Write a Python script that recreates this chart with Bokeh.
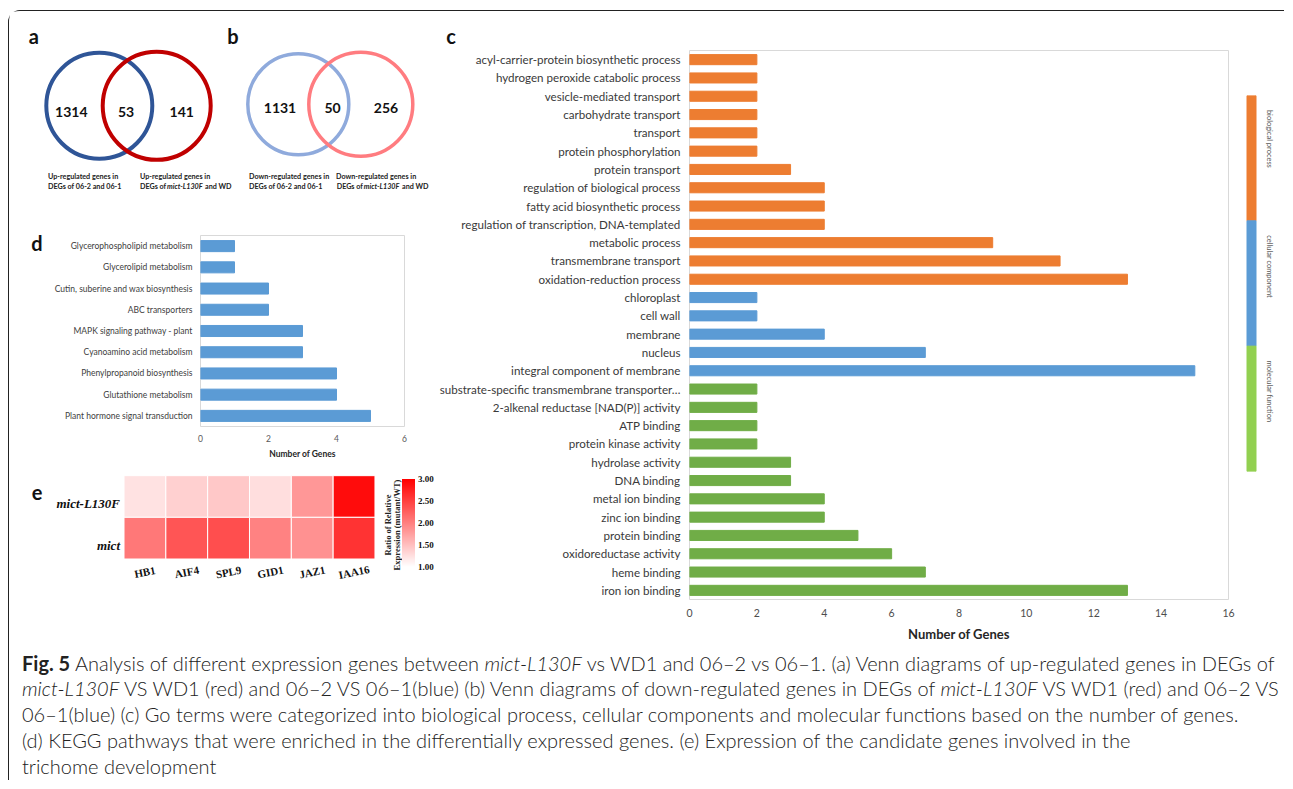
import math
from bokeh.plotting import figure
from bokeh.models import (Range1d, FactorRange, FixedTicker, ColumnDataSource,
                          LinearColorMapper, ColorBar, PrintfTickFormatter, Div)
from bokeh.layouts import column, row
from bokeh.embed import file_html
from bokeh.resources import INLINE
from bokeh.core.properties import value

# ---------------------------------------------------------------- data
venn_up_counts = [1314, 53, 141]          # 06-2/06-1 only, shared, mict-L130F/WD only
venn_down_counts = [1131, 50, 256]
venn_up_left = ["Up-regulated genes in", "DEGs of 06-2 and 06-1"]
venn_up_right = ["Up-regulated genes in", "DEGs of", "mict-L130F", "and WD"]
venn_down_left = ["Down-regulated genes in", "DEGs of 06-2 and 06-1"]
venn_down_right = ["Down-regulated genes in", "DEGs of", "mict-L130F", "and WD"]

kegg_terms = ["Glycerophospholipid metabolism", "Glycerolipid metabolism",
              "Cutin, suberine and wax biosynthesis", "ABC transporters",
              "MAPK signaling pathway - plant", "Cyanoamino acid metabolism",
              "Phenylpropanoid biosynthesis", "Glutathione metabolism",
              "Plant hormone signal transduction"]
kegg_genes = [1, 1, 2, 2, 3, 3, 4, 4, 5]
kegg_ticks = [0, 2, 4, 6]

go_bp_terms = ["acyl-carrier-protein biosynthetic process",
               "hydrogen peroxide catabolic process", "vesicle-mediated transport",
               "carbohydrate transport", "transport", "protein phosphorylation",
               "protein transport", "regulation of biological process",
               "fatty acid biosynthetic process",
               "regulation of transcription, DNA-templated", "metabolic process",
               "transmembrane transport", "oxidation-reduction process"]
go_bp_genes = [2, 2, 2, 2, 2, 2, 3, 4, 4, 4, 9, 11, 13]
go_cc_terms = ["chloroplast", "cell wall", "membrane", "nucleus",
               "integral component of membrane"]
go_cc_genes = [2, 2, 4, 7, 15]
go_mf_terms = ["substrate-specific transmembrane transporter\u2026",
               "2-alkenal reductase [NAD(P)] activity", "ATP binding",
               "protein kinase activity", "hydrolase activity", "DNA binding",
               "metal ion binding", "zinc ion binding", "protein binding",
               "oxidoreductase activity", "heme binding", "iron ion binding"]
go_mf_genes = [2, 2, 2, 2, 3, 3, 4, 4, 5, 6, 7, 13]
go_groups = ["biological process", "cellular component", "molecular function"]
go_ticks = [0, 2, 4, 6, 8, 10, 12, 14, 16]

heat_genes = ["HB1", "AIF4", "SPL9", "GID1", "JAZ1", "IAA16"]
heat_lines = ["mict-L130F", "mict"]
heat_mict_l130f = [1.23, 1.37, 1.43, 1.26, 1.82, 2.90]
heat_mict = [2.06, 2.33, 2.39, 1.98, 1.86, 2.60]
heat_ticks = [1.00, 1.50, 2.00, 2.50, 3.00]
heat_title = ["Ratio of Relative", "Expression (mutant/WT)"]

# ---------------------------------------------------------------- style / layout constants
SANS = "Lato"
SERIF = "Liberation Serif"
C_ORANGE, C_BLUE, C_GREEN, C_GREEN_STRIP = "#ED7D31", "#5B9BD5", "#70AD47", "#92D050"
INK = "#111111"
OX, OY = 9.5, 11.5            # page position of the layout content (inside the frame)
TOP_BOTTOM = 648.5            # page y where the chart area ends and the caption starts


def blank(width, height, xr, yr, **kw):
    p = figure(width=int(width), height=int(height), x_range=xr, y_range=yr,
               output_backend="svg", toolbar_location=None,
               x_axis_location=None, y_axis_location=None, min_border=0, **kw)
    p.grid.visible = False
    p.outline_line_color = None
    p.frame_align = False
    return p


def pixel_fig(left, top, width, height):
    """figure whose data units are page pixels (y down)."""
    width, height = int(round(width)), int(round(height))
    return blank(width, height, Range1d(left, left + width), Range1d(top + height, top))


letter_style = dict(text_font=value(SANS), text_font_style="bold",
                    text_font_size="20px", text_align="center",
                    text_baseline="alphabetic", text_color=INK)

# ---------------------------------------------------------------- venn (a, b)
VENN_H = 189
venn = pixel_fig(OX, OY, 427, VENN_H)
circ = ColumnDataSource(dict(
    x=[99.3, 156.7, 298.3, 360.8], y=[105.8, 105.8, 104.2, 104.2],
    r=[53, 54, 50.5, 52],
    c=["#2F5597", "#C00000", "#8FAADC", "#FF7C80"],
    w=[4, 4, 3.5, 3.5]))
venn.circle(x="x", y="y", radius="r", line_color="c", line_width="w",
            fill_color=None, source=circ)
num_style = dict(text_font=value(SANS), text_font_style="bold", text_font_size="14px",
                 text_align="center", text_baseline="middle", text_color=INK)
venn.text(x=[71.3, 126, 181.7], y=[111.7] * 3, text=[str(v) for v in venn_up_counts],
          **num_style)
venn.text(x=[280, 332.5, 386], y=[107.5] * 3, text=[str(v) for v in venn_down_counts],
          **num_style)
L1, L2 = 176.7, 186.7
plain = dict(text_font=value(SANS), text_font_style="bold", text_font_size="7.2px",
             text_align="left", text_baseline="middle", text_color="#222222")
ital = dict(plain, text_font_style="bold italic")
venn.text(x=[48, 48], y=[L1, L2], text=venn_up_left, **plain)
venn.text(x=[140, 140, 205], y=[L1, L2, L2],
          text=[venn_up_right[0], venn_up_right[1], venn_up_right[3]], **plain)
venn.text(x=[167], y=[L2], text=[venn_up_right[2]], **ital)
venn.text(x=[249, 249], y=[L1, L2], text=venn_down_left, **plain)
venn.text(x=[336, 336.7, 402], y=[L1, L2, L2],
          text=[venn_down_right[0], venn_down_right[1], venn_down_right[3]], **plain)
venn.text(x=[363.7], y=[L2], text=[venn_down_right[2]], **ital)
venn.text(x=[33.7, 233], y=[35.7, 35.7], text=["a", "b"], **letter_style)

# ---------------------------------------------------------------- panel letters d, e
LOW_TOP = OY + VENN_H                              # 200.5
LOW_H = int(round(TOP_BOTTOM - LOW_TOP))           # 448
letters = pixel_fig(OX, LOW_TOP, 39, LOW_H)
letters.text(x=[37, 37], y=[243, 492], text=["d", "e"], **letter_style)

# ---------------------------------------------------------------- KEGG (d)
KEGG_H = 262
kegg = figure(width=388, height=KEGG_H, x_range=Range1d(kegg_ticks[0], kegg_ticks[-1]),
              y_range=FactorRange(factors=list(reversed(kegg_terms))),
              output_backend="svg", toolbar_location=None,
              min_border_left=152, min_border_right=32, min_border_top=35,
              min_border_bottom=36)
kegg.frame_align = False
kegg.hbar(y=kegg_terms, right=kegg_genes, height=0.52, color=C_BLUE)
kegg.grid.visible = False
kegg.outline_line_color = "#D9D9D9"
kegg.xaxis.ticker = FixedTicker(ticks=kegg_ticks)
kegg.xaxis.axis_label = "Number of Genes"
for ax in (kegg.xaxis[0], kegg.yaxis[0]):
    ax.axis_line_color = None
    ax.major_tick_line_color = None
    ax.minor_tick_line_color = None
    ax.major_tick_out = 0
    ax.major_tick_in = 0
    ax.minor_tick_out = 0
    ax.major_label_text_font = SANS
    ax.major_label_text_font_size = "8.5px"
kegg.xaxis.major_label_standoff = 8
kegg.yaxis.major_label_standoff = 8
kegg.xaxis.major_label_text_color = "#595959"
kegg.yaxis.major_label_text_color = "#404040"
kegg.xaxis.axis_label_text_font = SANS
kegg.xaxis.axis_label_text_font_style = "bold"
kegg.xaxis.axis_label_text_font_size = "8.5px"
kegg.xaxis.axis_label_text_color = "#262626"
kegg.xaxis.axis_label_standoff = 4

# ---------------------------------------------------------------- heatmap (e)
HX0, HY0, HW = 48.5, LOW_TOP + KEGG_H, 388       # figure box on the page
HH = LOW_H - KEGG_H                               # 186
CELL_L, CELL_B, CELL_W, CELL_H = 124.0, 559.0, 41.83, 41.67


def hx(px):
    return (px - CELL_L) / CELL_W


def hy(py):
    return (CELL_B - py) / CELL_H


heat = blank(HW, HH, Range1d(hx(HX0), hx(HX0 + HW)), Range1d(hy(HY0 + HH), hy(HY0)))
palette = ["#ff%02x%02x" % (g, g) for g in range(255, -1, -1)]
mapper = LinearColorMapper(palette=palette, low=heat_ticks[0], high=heat_ticks[-1])
cx, cy, cv = [], [], []
n_rows = len(heat_lines)
for k, vals in enumerate([heat_mict_l130f, heat_mict]):
    for i, v in enumerate(vals):
        cx.append(i + 0.5)
        cy.append(n_rows - 1 - k + 0.5)
        cv.append(v)
heat.rect(x="x", y="y", width=1, height=1,
          source=ColumnDataSource(dict(x=cx, y=cy, v=cv)),
          fill_color={"field": "v", "transform": mapper},
          line_color="white", line_width=1)
heat.text(x=[hx(120)] * n_rows,
          y=[n_rows - 1 - k + 0.5 - 0.17 for k in range(n_rows)], text=heat_lines,
          text_align="right", text_baseline="middle", text_font=value(SERIF),
          text_font_style="bold italic", text_font_size="13px", text_color=INK)
heat.text(x=[i + 0.5 for i in range(len(heat_genes))], y=[hy(572)] * len(heat_genes),
          text=heat_genes, angle=0.2, text_align="center", text_baseline="middle",
          text_font=value(SERIF), text_font_style="bold", text_font_size="11px",
          text_color=INK)
heat.text(x=[hx(388), hx(397)], y=[hy(525)] * 2, text=heat_title, angle=math.pi / 2,
          text_align="center", text_baseline="middle", text_font=value(SERIF),
          text_font_style="bold", text_font_size="8.5px", text_color="#222222")
cb = ColorBar(color_mapper=mapper, location=(402 - HX0, HY0 + HH - 567),
              width=13, height=88, padding=0, margin=0,
              ticker=FixedTicker(ticks=heat_ticks),
              formatter=PrintfTickFormatter(format="%.2f"), label_standoff=3,
              major_label_text_font=SERIF, major_label_text_font_style="bold",
              major_label_text_font_size="9px", major_label_text_color=INK,
              major_tick_line_color=None, bar_line_color=None,
              background_fill_color=None, border_line_color=None)
heat.add_layout(cb, "center")

# ---------------------------------------------------------------- GO (c)
HDR_H = 37
hdr = pixel_fig(436.5, OY, 848, HDR_H)
hdr.text(x=[451], y=[35.5], text=["c"], **letter_style)

GO_TOP = OY + HDR_H                                # 48.5
GO_H = int(round(TOP_BOTTOM - GO_TOP))             # 600
GO_FRAME_TOP, GO_FRAME_BOTTOM = 50.5, 599.5
go_terms = go_bp_terms + go_cc_terms + go_mf_terms
go_genes = go_bp_genes + go_cc_genes + go_mf_genes
go_colors = ([C_ORANGE] * len(go_bp_terms) + [C_BLUE] * len(go_cc_terms)
             + [C_GREEN] * len(go_mf_terms))
go = figure(width=802, height=GO_H, x_range=Range1d(go_ticks[0], go_ticks[-1]),
            y_range=FactorRange(factors=list(reversed(go_terms))),
            output_backend="svg", toolbar_location=None,
            min_border_left=250, min_border_right=10,
            min_border_top=int(GO_FRAME_TOP - GO_TOP),
            min_border_bottom=int(TOP_BOTTOM - GO_FRAME_BOTTOM))
go.frame_align = False
go.hbar(y="term", right="genes", height=0.55, color="color",
        source=ColumnDataSource(dict(term=go_terms, genes=go_genes, color=go_colors)))
go.grid.visible = False
go.outline_line_color = "#D9D9D9"
go.xaxis.ticker = FixedTicker(ticks=go_ticks)
go.xaxis.axis_label = "Number of Genes"
for ax in (go.xaxis[0], go.yaxis[0]):
    ax.axis_line_color = None
    ax.major_tick_line_color = None
    ax.minor_tick_line_color = None
    ax.major_tick_out = 0
    ax.major_tick_in = 0
    ax.minor_tick_out = 0
    ax.major_label_text_font = SANS
go.xaxis.major_label_text_font_size = "10.5px"
go.xaxis.major_label_text_color = "#4D4D4D"
go.xaxis.major_label_standoff = 9
go.yaxis.major_label_text_font_size = "11.6px"
go.yaxis.major_label_text_color = "#3A3A3A"
go.yaxis.major_label_standoff = 9
go.xaxis.axis_label_text_font = SANS
go.xaxis.axis_label_text_font_style = "bold"
go.xaxis.axis_label_text_font_size = "13px"
go.xaxis.axis_label_text_color = "#262626"
go.xaxis.axis_label_standoff = 6

# ---------------------------------------------------------------- GO category strip
n_g = len(go_groups)
STRIP_TOP, STRIP_BOTTOM = 95.5, 471.5
strip = blank(46, GO_H, Range1d(0, 46), Range1d(0, n_g),
              min_border_top=int(STRIP_TOP - GO_TOP),
              min_border_bottom=int(TOP_BOTTOM - STRIP_BOTTOM))
strip.hbar(y=[n_g - i - 0.5 for i in range(n_g)], left=8.5, right=17.5, height=1,
           color=[C_ORANGE, C_BLUE, C_GREEN_STRIP])
strip.text(x=30.5, y=[n_g - i - 0.115 for i in range(n_g)], text=go_groups,
           angle=-math.pi / 2, text_align="left", text_baseline="middle",
           text_font=value(SANS), text_font_size="7.5px", text_color="#595959")

# ---------------------------------------------------------------- caption
caption_html = (
    '<div style="font-family:Lato,sans-serif;font-weight:300;font-size:20px;'
    'line-height:25.75px;color:#222;padding:2.6px 0 0 13px;white-space:nowrap">'
    '<b style="font-weight:700">Fig. 5</b> Analysis of different expression genes between '
    '<i>mict-L130F</i> vs WD1 and 06\u20132 vs 06\u20131. (a) Venn diagrams of up-regulated genes in DEGs of<br>'
    '<i>mict-L130F</i> VS WD1 (red) and 06\u20132 VS 06\u20131(blue) (b) Venn diagrams of down-regulated genes in DEGs of '
    '<i>mict-L130F</i> VS WD1 (red) and 06\u20132 VS<br>'
    '06\u20131(blue) (c) Go terms were categorized into biological process, cellular components and molecular functions based on the number of genes.<br>'
    '(d) KEGG pathways that were enriched in the differentially expressed genes. (e) Expression of the candidate genes involved in the<br>'
    'trichome development</div>')
caption = Div(text=caption_html, width=1275, height=132, margin=0)

lower_left = row(letters, column(kegg, heat))
left_col = column(venn, lower_left)
right_col = column(hdr, row(go, strip))
top = row(left_col, right_col)
layout = column(top, caption, margin=(10, 0, 0, 8), styles={
    "border-left": "1.5px solid #222",
    "border-top": "1.5px solid #222",
    "border-top-left-radius": "12px"})

open("out.html", "w").write(file_html(layout, INLINE, title="Fig. 5"))
